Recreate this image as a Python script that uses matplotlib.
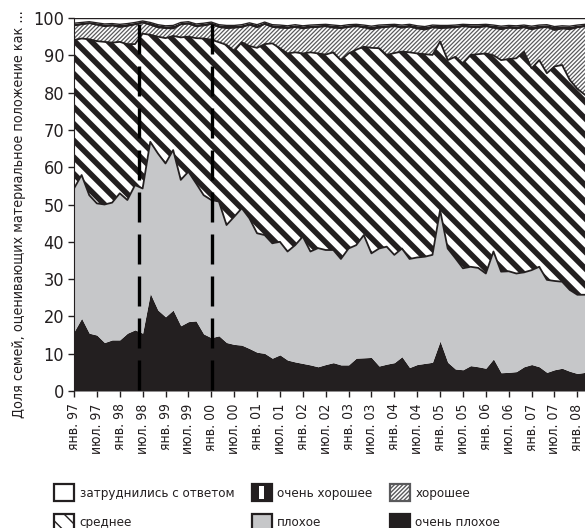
import numpy as np
import matplotlib.pyplot as plt
from matplotlib.patches import Patch, Rectangle
from matplotlib import font_manager as fm

# шрифт: узкий, если есть
names = {f.name for f in fm.fontManager.ttflist}
if 'Liberation Sans Narrow' in names:
    plt.rcParams['font.family'] = ['Liberation Sans Narrow', 'DejaVu Sans']
else:
    plt.rcParams['font.family'] = ['DejaVu Sans']
    plt.rcParams['font.stretch'] = 'condensed'

INK = '#231f20'
GREY = '#c6c7c9'

# месяцы опросов, отсчёт от января 1997 (раз в два месяца)
months = np.arange(0, 135, 2)

very_bad = [15.9, 19.5, 15.5, 15.0, 13.0, 13.7, 13.7, 15.5, 16.4, 15.5,
            26.2, 21.7, 19.9, 21.7, 17.5, 18.6, 18.8, 15.3, 14.3, 14.8,
            13.0, 12.5, 12.3, 11.4, 10.4, 10.1, 8.8, 9.7, 8.3, 7.8,
            7.4, 7.0, 6.5, 7.1, 7.6, 7.0, 7.0, 8.8, 8.9, 9.0,
            6.7, 7.2, 7.6, 9.2, 6.3, 7.1, 7.4, 7.7, 13.4, 7.7,
            5.9, 5.7, 6.8, 6.5, 6.1, 8.6, 4.9, 5.0, 5.2, 6.5,
            7.1, 6.5, 5.0, 5.7, 6.1, 5.3, 4.7, 5.0]
bad = [38.4, 38.4, 37.0, 35.3, 37.0, 36.8, 39.3, 35.7, 38.8, 38.8,
       40.6, 42.0, 41.1, 42.9, 39.1, 40.2, 36.9, 37.2, 36.9, 36.0,
       31.5, 34.2, 36.7, 34.9, 31.9, 31.7, 30.8, 30.3, 29.1, 31.3,
       34.0, 30.4, 31.8, 30.7, 30.2, 28.4, 31.2, 30.3, 32.9, 27.9,
       31.5, 31.5, 28.9, 29.0, 29.1, 28.7, 28.6, 28.8, 35.1, 30.5,
       29.7, 27.2, 26.5, 26.5, 25.4, 28.8, 27.1, 27.1, 26.3, 25.3,
       25.3, 26.8, 24.8, 23.8, 23.2, 21.8, 21.1, 20.8]
average = [39.8, 36.6, 41.8, 43.5, 43.6, 42.9, 40.6, 41.8, 37.8, 41.5,
           28.7, 31.3, 33.6, 30.6, 38.2, 36.2, 38.9, 42.0, 43.0, 42.7,
           48.3, 44.5, 44.5, 46.2, 49.7, 51.2, 53.6, 51.9, 53.1, 51.7,
           49.1, 53.4, 52.2, 52.4, 53.0, 53.3, 52.3, 52.4, 50.5, 55.1,
           53.7, 51.4, 54.1, 52.8, 55.4, 54.7, 54.3, 53.6, 45.2, 50.5,
           54.0, 54.9, 56.8, 57.3, 59.0, 52.6, 56.7, 56.9, 57.7, 59.2,
           54.1, 55.4, 55.4, 57.5, 58.1, 56.3, 55.2, 53.6]
good = [3.9, 3.8, 4.3, 4.4, 4.2, 4.6, 4.0, 4.9, 5.3, 3.0,
        2.7, 2.5, 2.7, 2.0, 3.5, 3.5, 3.2, 3.5, 4.2, 4.1,
        4.5, 6.2, 4.1, 5.7, 5.5, 5.4, 4.4, 5.5, 6.8, 6.8,
        6.7, 6.7, 7.1, 7.6, 6.6, 8.6, 7.1, 6.3, 5.2, 5.0,
        5.5, 7.5, 7.2, 6.4, 6.9, 6.7, 6.6, 7.4, 3.6, 8.7,
        7.9, 10.0, 7.5, 7.2, 7.3, 7.4, 8.3, 8.4, 8.0, 6.5,
        10.5, 8.7, 12.4, 9.8, 9.8, 13.6, 16.5, 18.4]
very_good = [0.6, 0.5, 0.4, 0.5, 0.6, 0.5, 0.7, 0.6, 0.5, 0.4,
             0.6, 0.7, 0.6, 0.8, 0.5, 0.5, 0.6, 0.6, 0.5, 0.6,
             0.7, 0.6, 0.6, 0.5, 0.7, 0.5, 0.6, 0.7, 0.6, 0.6,
             0.7, 0.6, 0.6, 0.5, 0.7, 0.6, 0.6, 0.5, 0.6, 0.8,
             0.7, 0.6, 0.5, 0.7, 0.6, 0.7, 0.8, 0.6, 0.7, 0.6,
             0.6, 0.5, 0.6, 0.7, 0.5, 0.7, 0.8, 0.6, 0.7, 0.6,
             0.8, 0.7, 0.6, 0.9, 0.7, 0.8, 0.6, 0.5]
no_answer = [1.4, 1.2, 1.0, 1.3, 1.6, 1.5, 1.7, 1.5, 1.2, 0.8,
             1.2, 1.8, 2.1, 2.0, 1.2, 1.0, 1.6, 1.4, 1.1, 1.8,
             2.0, 2.0, 1.8, 1.3, 1.8, 1.1, 1.8, 1.9, 2.1, 1.8,
             2.1, 1.9, 1.8, 1.7, 1.9, 2.1, 1.8, 1.7, 1.9, 2.2,
             1.9, 1.8, 1.7, 1.9, 1.7, 2.1, 2.3, 1.9, 2.0, 2.0,
             1.9, 1.7, 1.8, 1.8, 1.7, 1.9, 2.2, 2.0, 2.1, 1.9,
             2.2, 1.9, 1.8, 2.3, 2.1, 2.2, 1.9, 1.7]

tick_months = np.arange(0, 133, 6)
tick_labels = ['янв. 97', 'июл. 97', 'янв. 98', 'июл. 98', 'янв. 99', 'июл. 99',
               'янв. 00', 'июл. 00', 'янв. 01', 'июл. 01', 'янв. 02', 'июл. 02',
               'янв. 03', 'июл. 03', 'янв. 04', 'июл. 04', 'янв. 05', 'июл. 05',
               'янв. 06', 'июл. 06', 'янв. 07', 'июл. 07', 'янв. 08']
crisis_marks = [17.1, 36.3]

fig = plt.figure(figsize=(5.85, 5.28), dpi=100)
ax = fig.add_axes([74/585, 1-391/528, 511/585, 373/528])

layers = np.vstack([very_bad, bad, average, good, very_good, no_answer])
tops = np.cumsum(layers, axis=0)
bottoms = np.vstack([np.zeros(len(months)), tops[:-1]])

def band(i, hatch_lw=1.0, **kw):
    with plt.rc_context({'hatch.linewidth': hatch_lw}):
        p = ax.fill_between(months, bottoms[i], tops[i], linewidth=0, **kw)
        if hasattr(p, 'set_hatch_linewidth'):
            p.set_hatch_linewidth(hatch_lw)
    return p

band(0, facecolor=INK, edgecolor=INK)
band(1, facecolor=GREY, edgecolor=GREY)
band(2, hatch_lw=4.0, facecolor='white', edgecolor=INK, hatch='\\\\')
band(3, hatch_lw=0.9, facecolor='white', edgecolor='#5a5a5c', hatch='////////')
band(4, facecolor=INK, edgecolor=INK)
band(5, facecolor='white', edgecolor='white')

# контуры границ
for i, lw in [(1, 1.3), (2, 1.3), (3, 1.3), (4, 1.0), (5, 1.0)]:
    ax.plot(months, tops[i], color=INK, lw=lw)

for xm in crisis_marks:
    ax.plot([xm, xm], [98.5, 0], color='black', lw=2.4,
            linestyle=(0, (9, 3.6)), zorder=5)

ax.set_xlim(0, 134)
ax.set_ylim(0, 100)
ax.set_yticks(range(0, 101, 10))
ax.set_xticks(tick_months)
ax.set_xticklabels(tick_labels, rotation=90)
ax.tick_params(axis='y', labelsize=13, direction='out', length=4, width=1,
               colors=INK, pad=3)
ax.tick_params(axis='x', labelsize=10, direction='out', length=4, width=1,
               colors=INK, pad=5)
for s in ['top', 'right', 'bottom']:
    ax.spines[s].set_visible(False)
ax.spines['left'].set_color(INK)
ax.set_ylabel('Доля семей, оценивающих материальное положение как ...',
              fontsize=10.3, color=INK)
ax.yaxis.set_label_coords(-48/511, 0.475)


class BarBoxHandler:
    # чёрный квадрат с белой вертикальной полосой
    def legend_artist(self, legend, orig_handle, fontsize, handlebox):
        x0, y0 = -handlebox.xdescent, -handlebox.ydescent
        w, h = handlebox.width, handlebox.height
        tr = handlebox.get_transform()
        box = Rectangle((x0, y0), w, h, facecolor=INK, edgecolor=INK,
                        lw=1.6, transform=tr)
        bar = Rectangle((x0 + w * 0.38, y0 + h * 0.12), w * 0.24, h * 0.76,
                        facecolor='white', edgecolor='none', transform=tr)
        handlebox.add_artist(box)
        handlebox.add_artist(bar)
        return box


with plt.rc_context({'hatch.linewidth': 2.2}):
    h_none = Patch(facecolor='white', edgecolor=INK, lw=1.6)
    h_avg = Patch(facecolor='white', edgecolor=INK, hatch='\\\\', lw=1.6)
with plt.rc_context({'hatch.linewidth': 0.9}):
    h_good = Patch(facecolor='white', edgecolor='#5a5a5c', hatch='////////', lw=1.6)
h_vgood = Patch(facecolor=INK, edgecolor=INK, lw=1.6)
h_bad = Patch(facecolor=GREY, edgecolor=INK, lw=1.6)
h_vbad = Patch(facecolor=INK, edgecolor=INK, lw=1.6)

handles = [h_none, h_avg, h_vgood, h_bad, h_good, h_vbad]
labels = ['затруднились с ответом', 'среднее', 'очень хорошее', 'плохое',
          'хорошее', 'очень плохое']
fig.legend(handles, labels, ncol=3, loc='upper left',
           bbox_to_anchor=(54/585, 1-484/528), frameon=False, borderpad=0,
           borderaxespad=0, handlelength=1.55, handleheight=1.55,
           handletextpad=0.4, columnspacing=1.3, labelspacing=1.0,
           fontsize=9.5, labelcolor=INK,
           handler_map={h_vgood: BarBoxHandler()})

fig.savefig('out.png', dpi=100)
